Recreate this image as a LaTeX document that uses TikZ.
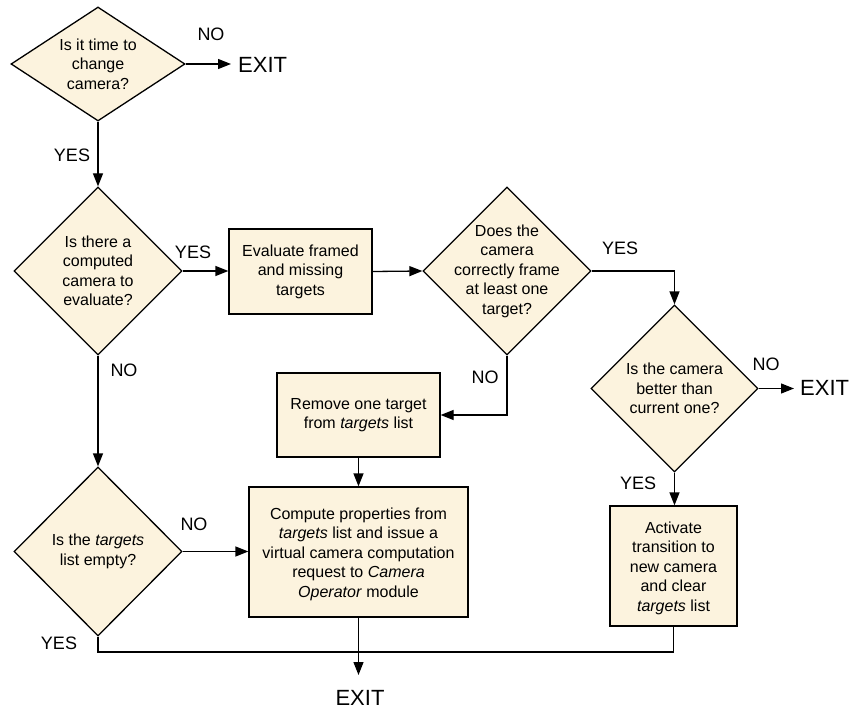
\documentclass[tikz,border=0pt]{standalone}
\usepackage{fontspec}
\setmainfont{Liberation Sans}
\usetikzlibrary{shapes.geometric,arrows.meta}
\definecolor{cream}{RGB}{252,243,222}
\begin{document}
\begin{tikzpicture}[x=1pt,y=-1pt,
  dia/.style={diamond, draw=black, line width=1.3pt, fill=cream, inner sep=0pt, aspect=1},
  box/.style={rectangle, draw=black, line width=1.3pt, fill=cream, inner sep=0pt},
  txt/.style={align=center, font=\fontsize{16}{19.5}\selectfont, inner sep=0pt},
  lbl/.style={font=\fontsize{18}{20}\selectfont, inner sep=0pt},
  exittxt/.style={font=\fontsize{22}{24}\selectfont, inner sep=0pt},
  conn/.style={line width=1.3pt},
  arr/.style={conn, -{Triangle[length=13pt,width=10pt]}}]
\useasboundingbox (0,0) rectangle (853,711);

% shapes
\node[dia, minimum width=174pt, minimum height=114pt] (d1) at (98,64) {};
\node[txt] (d1t) at (d1) {Is it time to\\change\\camera?};
\node[dia, minimum width=168pt, minimum height=168pt] (d2) at (98,271) {};
\node[txt] (d2t) at (d2) {Is there a\\computed\\camera to\\evaluate?};
\node[box, minimum width=143pt, minimum height=85pt] (b1) at (300.5,271.5) {};
\node[txt] (b1t) at (b1) {Evaluate framed\\and missing\\targets};
\node[dia, minimum width=168pt, minimum height=168pt] (d3) at (507,271) {};
\node[txt] (d3t) at (d3) {Does the\\camera\\correctly frame\\at least one\\target?};
\node[dia, minimum width=167pt, minimum height=167pt] (d4) at (674.5,388.5) {};
\node[txt] (d4t) at (d4) {Is the camera\\better than\\current one?};
\node[box, minimum width=127pt, minimum height=120pt] (b4) at (673.5,566) {};
\node[txt] (b4t) at (673.5,568) {Activate\\transition to\\new camera\\and clear\\\textit{targets} list};
\node[box, minimum width=163pt, minimum height=84pt] (rem) at (358.5,415) {};
\node[txt] (remt) at (rem) {Remove one target\\from \textit{targets} list};
\node[box, minimum width=219pt, minimum height=130pt] (cmp) at (358.5,552) {};
\node[txt] (cmpt) at (358.5,554) {Compute properties from\\\textit{targets} list and issue a\\virtual camera computation\\request to \textit{Camera}\\\textit{Operator} module};
\node[dia, minimum width=168pt, minimum height=169pt] (d5) at (98,551.5) {};
\node[txt] (d5t) at (d5) {Is the \textit{targets}\\list empty?};

% exits
\node[exittxt, anchor=west, inner xsep=7pt] (x1) at (231,65) {EXIT};
\node[exittxt, anchor=west, inner xsep=6pt] (x2) at (794,388) {EXIT};
\node[exittxt, anchor=north, inner ysep=15pt] (x3) at (360,675) {EXIT};

% labels
\node[lbl] (l1) at (211,34) {NO};
\node[lbl] (l2) at (72,155) {YES};
\node[lbl] (l3) at (193,252) {YES};
\node[lbl] (l4) at (620,248) {YES};
\node[lbl] (l5) at (124,370) {NO};
\node[lbl] (l6) at (485,377) {NO};
\node[lbl] (l7) at (766,364) {NO};
\node[lbl] (l8) at (638,483) {YES};
\node[lbl] (l9) at (194,524) {NO};
\node[lbl] (l10) at (59,643) {YES};

% connectors
\draw[arr] (d1.east) -- (d1.east -| x1.west);
\draw[arr] (d1.south) -- (d2.north);
\draw[arr] (d2.east) -- (d2.east -| b1.west);
\draw[arr] (b1.east) -- (d3.west);
\draw[arr] (d3.east) -| (d4.north);
\draw[arr] (d4.east) -- (d4.east -| x2.west);
\draw[arr] (d4.south) -- (d4.south |- b4.north);
\draw[arr] (d3.south) |- (rem.east);
\draw[arr] (rem.south) -- (cmp.north);
\draw[arr] (d2.south) -- (d5.north);
\draw[arr] (d5.east) -- (d5.east -| cmp.west);
\coordinate (j) at (358.5,652);
\draw[conn] (d5.south) |- (j);
\draw[conn] (b4.south) |- (j);
\draw[arr] (cmp.south) -- (cmp.south |- x3.north);
\end{tikzpicture}
\end{document}
